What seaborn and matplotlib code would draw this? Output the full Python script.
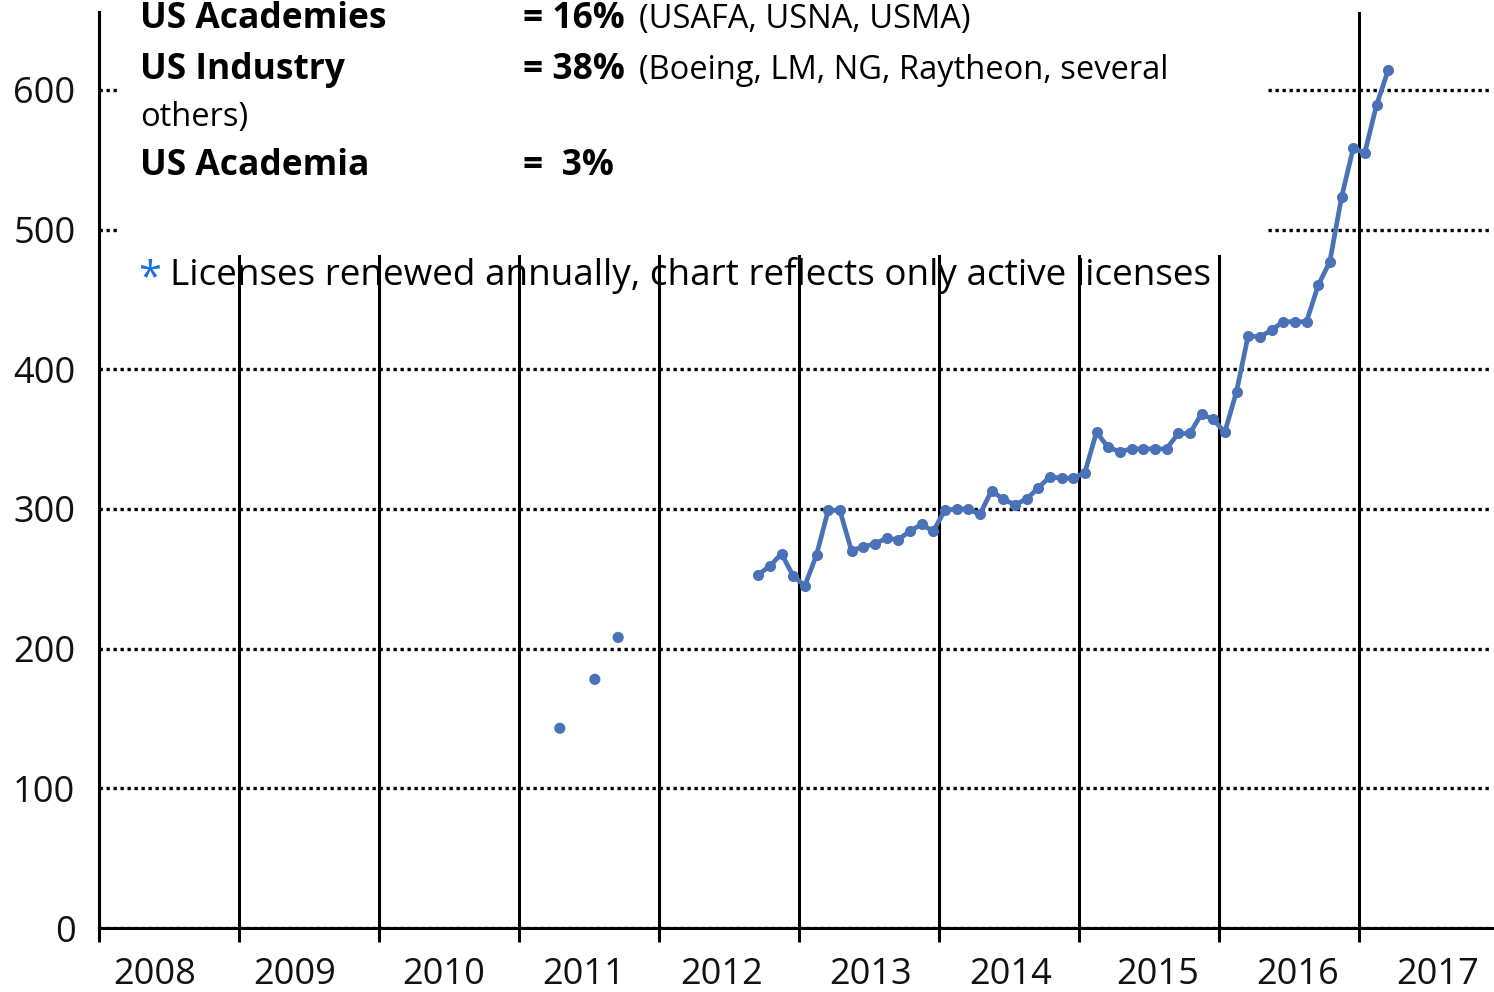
import numpy as np
import pandas as pd
import matplotlib
matplotlib.use("Agg")
import matplotlib.pyplot as plt
import seaborn as sns
from matplotlib.patches import Rectangle

# active licenses, monthly
EARLY_MONTHS = ["2011-04", "2011-07", "2011-09"]
EARLY_VALUES = [143, 178, 208]

SERIES_START = "2012-09"
SERIES_VALUES = [253, 259, 268, 252, 245, 267, 299, 299, 270, 273,
                 275, 279, 278, 284, 289, 284, 299, 300, 300, 296,
                 313, 307, 303, 307, 315, 323, 322, 322, 326, 355,
                 344, 341, 343, 343, 343, 343, 354, 354, 368, 364,
                 355, 384, 424, 423, 428, 434, 434, 434, 460, 477,
                 523, 558, 555, 589, 614]

YEARS = [2008, 2009, 2010, 2011, 2012, 2013, 2014, 2015, 2016, 2017]
YEAR_LABEL_POS = [2008.40, 2009.40, 2010.46, 2011.46, 2012.45,
                  2013.51, 2014.51, 2015.56, 2016.56, 2017.56]
Y_TICKS = [0, 100, 200, 300, 400, 500, 600]

BLUE = "#4a72b8"
W, H = 1494, 992


def decimal_year(dates):
    d = pd.to_datetime(dates)
    return d.year + (d.month - 1 + 0.5) / 12.0


series_dates = pd.date_range(SERIES_START, periods=len(SERIES_VALUES), freq="MS")
series_df = pd.DataFrame({"x": decimal_year(series_dates), "licenses": SERIES_VALUES})
early_df = pd.DataFrame({"x": decimal_year(EARLY_MONTHS), "licenses": EARLY_VALUES})

sns.set_style("white")
plt.rcParams["font.family"] = ["Open Sans", "DejaVu Sans"]

fig = plt.figure(figsize=(W / 100, H / 100), dpi=100)
ax = fig.add_axes([99 / W, 1 - 928 / H, (1492 - 99) / W, (928 - 12) / H])

sns.lineplot(data=series_df, x="x", y="licenses", ax=ax, color=BLUE,
             linewidth=3.4, marker="o", markersize=8, markeredgewidth=0,
             estimator=None, zorder=4)
sns.scatterplot(data=early_df, x="x", y="licenses", ax=ax, color=BLUE,
                s=65, edgecolor="none", zorder=4)

ax.set_xlim(2008, 2017.95)
ax.set_ylim(0, 655.7)
ax.set_xlabel("")
ax.set_ylabel("")

# year boundaries as major ticks + solid gridlines, labels on minor ticks
ax.set_xticks(YEARS)
ax.set_xticklabels([])
ax.set_xticks(YEAR_LABEL_POS, minor=True)
ax.set_xticklabels([str(y) for y in YEARS], minor=True)
ax.tick_params(axis="x", which="major", direction="out", length=10,
               width=2.2, color="black", bottom=True)
ax.tick_params(axis="x", which="minor", length=0, pad=21,
               labelsize=26, labelcolor="#111111")

ax.set_yticks(Y_TICKS)
ax.set_yticklabels([str(v) for v in Y_TICKS])
ax.tick_params(axis="y", length=0, pad=17, labelsize=26, labelcolor="#111111")

ax.set_axisbelow("line")
ax.grid(axis="x", which="major", color="black", linewidth=2.2, linestyle="-")
ax.grid(axis="y", which="major", color="black", linewidth=2.4,
        linestyle=(0, (1, 1.1)))

for side in ["top", "right"]:
    ax.spines[side].set_visible(False)
ax.spines["left"].set_color("black")
ax.spines["left"].set_linewidth(2.2)
ax.spines["bottom"].set_color("black")
ax.spines["bottom"].set_linewidth(2.2)

# white text box over the top of the plot
box = Rectangle((117 / W, 1 - 255 / H), (1268 - 117) / W, 255 / H,
                transform=fig.transFigure, facecolor="white",
                edgecolor="none", clip_on=False, zorder=2)
ax.add_patch(box)


def put(px, py, s, **kw):
    kw.setdefault("zorder", 3)
    ax.text(px / W, 1 - py / H, s, transform=fig.transFigure,
            va="baseline", ha="left", clip_on=False, **kw)


bold = dict(fontsize=25.5, fontweight="bold", color="black")
plain = dict(fontsize=23.5, color="black")

put(140, 28, "US Academies", **bold)
put(523, 28, "= 16%", **bold)
put(639, 28, "(USAFA, USNA, USMA)", **plain)
put(140, 79, "US Industry", **bold)
put(523, 79, "= 38%", **bold)
put(639, 79, "(Boeing, LM, NG, Raytheon, several", **plain)
put(140, 126, "others)", **plain)
put(140, 175, "US Academia", **bold)
put(523, 175, "=  3%", **bold)

put(138, 290, "*", fontsize=30, color="#1f6fe0", zorder=1)
put(170, 285, "Licenses renewed annually, chart reflects only active licenses",
    fontsize=26.6, color="black", zorder=1)

fig.savefig("out.png", dpi=100)
